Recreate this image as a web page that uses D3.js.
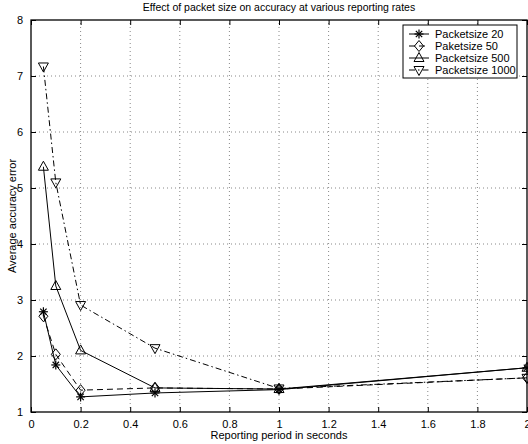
<!DOCTYPE html>
<html>
<head>
<meta charset="utf-8">
<script src="https://cdn.jsdelivr.net/npm/d3@7"></script>
<style>
  body { margin: 0; background: #fff; }
  svg text { font-family: "Liberation Sans", Arial, sans-serif; fill: #000; }
</style>
</head>
<body>
<svg id="chart"></svg>
<script>
// periods on the x axis
const periods = [0.05, 0.1, 0.2, 0.5, 1, 2];
const seriesNames = ["Packetsize 20", "Paketsize 50", "Packetsize 500", "Packetsize 1000"];
const ps20 = [2.79, 1.84, 1.27, 1.34, 1.40, 1.79];
const ps50 = [2.71, 2.03, 1.39, 1.43, 1.41, 1.61];
const ps500 = [5.38, 3.25, 2.10, 1.43, 1.41, 1.79];
const ps1000 = [7.17, 5.10, 2.91, 2.14, 1.42, 1.61];
const xTicks = [0, 0.2, 0.4, 0.6, 0.8, 1, 1.2, 1.4, 1.6, 1.8, 2];
const yTicks = [1, 2, 3, 4, 5, 6, 7, 8];

const W = 528, H = 444;
const pad = { top: 20, bottom: 32, left: 31, right: 1 };

const svg = d3.select("#chart").attr("width", W).attr("height", H);
const innerW = W - pad.left - pad.right;
const innerH = H - pad.top - pad.bottom;

const x = d3.scaleLinear().domain([0, 2]).range([pad.left, pad.left + innerW]);
const y = d3.scaleLinear().domain([1, 8]).range([pad.top + innerH, pad.top]);

/* grid */
svg.append("g").selectAll("line.gx")
  .data(xTicks.slice(1, -1)).join("line")
  .attr("x1", d => x(d)).attr("x2", d => x(d))
  .attr("y1", y(1)).attr("y2", y(8))
  .attr("stroke", "#888").attr("stroke-width", 1).attr("stroke-dasharray", "1,3");
svg.append("g").selectAll("line.gy")
  .data(yTicks.slice(1, -1)).join("line")
  .attr("x1", x(0)).attr("x2", x(2))
  .attr("y1", d => y(d)).attr("y2", d => y(d))
  .attr("stroke", "#888").attr("stroke-width", 1).attr("stroke-dasharray", "1,3");

/* axes, ticks pointing inward like matlab */
const fmt = d => d3.format("~g")(d);
let xAxis = svg.append("g").attr("transform", "translate(0," + y(1) + ")")
  .call(d3.axisBottom(x).tickValues(xTicks).tickSize(-5).tickPadding(8).tickFormat(fmt));
let xTop = svg.append("g").attr("transform", "translate(0," + y(8) + ")")
  .call(d3.axisTop(x).tickValues(xTicks).tickSize(-5).tickFormat(""));
let yAxis = svg.append("g").attr("transform", "translate(" + x(0) + ",0)")
  .call(d3.axisLeft(y).tickValues(yTicks).tickSize(-5).tickPadding(8).tickFormat(fmt));
let yRight = svg.append("g").attr("transform", "translate(" + x(2) + ",0)")
  .call(d3.axisRight(y).tickValues(yTicks).tickSize(-5).tickFormat(""));
svg.selectAll(".tick text").style("font-size", "11px").style("font-family", "Liberation Sans, Arial, sans-serif");
svg.selectAll(".domain").remove();

svg.append("rect")
  .attr("x", x(0)).attr("y", y(8))
  .attr("width", x(2) - x(0)).attr("height", y(1) - y(8))
  .attr("fill", "none").attr("stroke", "#000").attr("stroke-width", 1.3);

/* labels */
svg.append("text").attr("x", (x(0) + x(2)) / 2).attr("y", 11)
  .attr("text-anchor", "middle").style("font-size", "10.5px")
  .text("Effect of packet size on accuracy at various reporting rates");
svg.append("text").attr("x", (x(0) + x(2)) / 2).attr("y", 439)
  .attr("text-anchor", "middle").style("font-size", "11px")
  .text("Reporting period in seconds");
svg.append("text")
  .attr("transform", "translate(16," + ((y(1) + y(8)) / 2) + ")rotate(-90)")
  .attr("text-anchor", "middle").style("font-size", "11px")
  .text("Average accuracy error");

/* series */
const allSeries = [ps20, ps50, ps500, ps1000];
const dashes = [null, "6,4", null, "6,3,1.5,3"];
const markers = ["star", "diamond", "up", "down"];

function drawMarker(g, kind, cx, cy) {
  const r = 4.5;
  if (kind == "star") {
    [0, 45, 90, 135].forEach(a => {
      const dx = Math.cos(a * Math.PI / 180) * r, dy = Math.sin(a * Math.PI / 180) * r;
      g.append("line").attr("x1", cx - dx).attr("y1", cy - dy).attr("x2", cx + dx).attr("y2", cy + dy)
        .attr("stroke", "#000").attr("stroke-width", 1.2);
    });
  } else {
    let pts;
    if (kind == "diamond") pts = [[0, -r - 1], [r, 0], [0, r + 1], [-r, 0]];
    if (kind == "up") pts = [[0, -r - 1], [r + 0.5, r - 1], [-r - 0.5, r - 1]];
    if (kind == "down") pts = [[0, r + 1], [r + 0.5, -r + 1], [-r - 0.5, -r + 1]];
    g.append("polygon")
      .attr("points", pts.map(p => (cx + p[0]) + "," + (cy + p[1])).join(" "))
      .attr("fill", "none").attr("stroke", "#000").attr("stroke-width", 1);
  }
}

const line = d3.line().x((d, i) => x(periods[i])).y(d => y(d));
allSeries.forEach((vals, s) => {
  svg.append("path").datum(vals)
    .attr("d", line)
    .attr("fill", "none").attr("stroke", "#000").attr("stroke-width", 1)
    .attr("stroke-dasharray", dashes[s]);
  const g = svg.append("g");
  vals.forEach((v, i) => drawMarker(g, markers[s], x(periods[i]), y(v)));
});

/* legend */
const legend = svg.append("g").attr("transform", "translate(403,25)");
legend.append("rect").attr("width", 114).attr("height", 53)
  .attr("fill", "#fff").attr("stroke", "#000").attr("stroke-width", 1);
seriesNames.forEach((name, i) => {
  const ly = 9 + i * 12;
  legend.append("line").attr("x1", 6).attr("x2", 26).attr("y1", ly).attr("y2", ly)
    .attr("stroke", "#000").attr("stroke-width", 1).attr("stroke-dasharray", dashes[i]);
  drawMarker(legend, markers[i], 16, ly);
  legend.append("text").attr("x", 32).attr("y", ly + 4).style("font-size", "11px").text(name);
});
</script>
</body>
</html>
